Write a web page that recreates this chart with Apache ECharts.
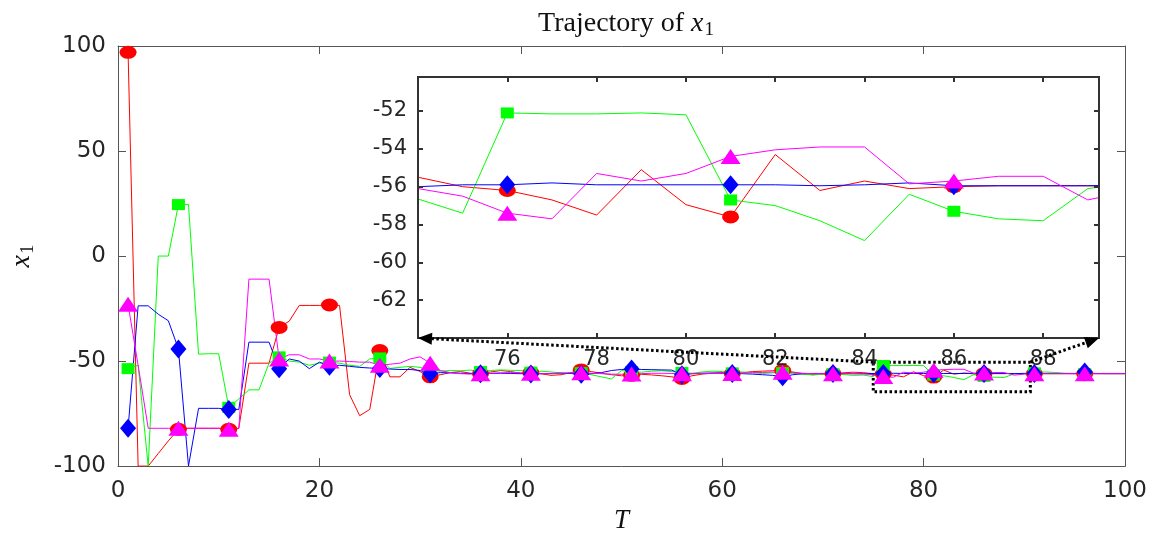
<!DOCTYPE html>
<html>
<head>
<meta charset="utf-8">
<script src="https://cdn.jsdelivr.net/npm/echarts@6/dist/echarts.min.js"></script>
<style>
html,body{margin:0;padding:0;background:#fff;}
#chart{width:1161px;height:539px;}
</style>
</head>
<body>
<div id="chart"></div>
<script>
// ---------- data ----------
const T = Array.from({length: 100}, (_, i) => i + 1);

const red = [
  97, -100, -100, -94, -88, -82.5, -82, -82, -82, -82,
  -82.5, -82, -51, -51, -51, -34, -31, -23.5, -23.5, -23.5,
  -23.3, -23.5, -66, -76, -73, -45, -57.5, -57.5, -53, -55,
  -57.5, -56.5, -55.5, -55, -55.8, -56, -55.2, -54.5, -55, -55.8,
  -55.5, -56, -56.8, -56.5, -55.5, -54.2, -55, -55.8, -56.5, -57,
  -56.8, -56.3, -56.6, -57, -57.5, -58.3, -57, -56.2, -55.8, -55.5,
  -56, -55.6, -55, -54.8, -54.6, -54.4, -55.2, -56, -56.5, -56.2,
  -56, -55.6, -55.3, -55.5, -56, -56.2, -56.7, -57.5, -55.1, -56.95,
  -57.6, -54.3, -56.2, -55.7, -56.1, -56, -55.95, -55.95, -55.95, -56,
  -56, -56, -56, -56, -56, -56, -56, -56, -56, -56
];
const green = [
  -53.6, -52, -100, 0, 0, 24.5, 24.5, -46.7, -46.5, -46.5,
  -72, -68, -63.7, -63.7, -51, -48, -50, -50.5, -52, -51,
  -50.5, -51, -52, -52.5, -49, -48.5, -53.5, -53, -52.5, -53,
  -54.5, -54.8, -54.5, -54.6, -54.3, -55, -54.5, -54.2, -54.4, -54.5,
  -55.3, -54.8, -55.2, -55.6, -55.8, -55.5, -56.5, -57.5, -58.5, -54.5,
  -55, -55.3, -54.8, -54.6, -55, -55.4, -55.8, -55.2, -54.8, -55,
  -55.6, -55.2, -55.5, -55.9, -55.6, -55.5, -55.8, -56.3, -56.6, -56.2,
  -56, -56.4, -56.8, -56.65, -57.4, -52.1, -52.15, -52.15, -52.1, -52.2,
  -56.7, -57.0, -57.8, -58.85, -56.4, -57.3, -57.7, -57.8, -56.1, -55.8,
  -55.6, -55.2, -55.4, -55.8, -56, -56, -55.9, -56, -56, -56
];
const blue = [
  -82, -23.7, -23.7, -27.7, -30.8, -44.2, -100, -72.5, -72.5, -72.5,
  -73, -73, -41, -41, -41, -53.6, -49, -50, -53.6, -50.5,
  -52.5, -52, -52.5, -53, -53.3, -53.5, -53.8, -54, -54, -54.5,
  -56, -55.5, -55.6, -55.8, -55.9, -56, -55.9, -55.8, -55.9, -56,
  -56.2, -56, -55.9, -55.8, -55.9, -56.3, -56, -55.5, -54.5, -54,
  -53.8, -54, -54.1, -54.2, -54.3, -56.5, -56, -55.8, -55.7, -55.8,
  -55.9, -56, -56.2, -56.5, -56.8, -57.5, -56.5, -56, -55.9, -55.9,
  -55.9, -55.9, -56, -56, -55.9, -55.9, -55.8, -55.9, -55.9, -55.9,
  -55.9, -55.9, -55.95, -55.9, -55.8, -55.95, -55.95, -55.95, -55.95, -55.9,
  -55.9, -55.9, -55.9, -55.9, -55.9, -55.2, -55.9, -55.9, -55.9, -55.9
];
const magenta = [
  -23, -52, -82, -82, -82, -82, -82, -82, -82, -82,
  -82.5, -82, -11, -11, -11, -49, -47, -47, -49, -49,
  -50, -50, -50.2, -50.5, -50.5, -52, -51.5, -51, -49, -48,
  -51, -54.5, -55.5, -56, -56.2, -56, -55.8, -55.6, -55.5, -55.6,
  -55.8, -56, -56, -55.8, -55.6, -55.5, -55.8, -56, -56.2, -56.3,
  -56.2, -56, -55.8, -55.8, -55.9, -56, -56, -55.9, -55.8, -55.8,
  -55.9, -55.8, -55.6, -55.4, -55.2, -55.3, -55.5, -55.8, -56, -56,
  -56, -56, -56, -56.1, -56.5, -57.4, -57.7, -55.3, -55.7, -55.3,
  -54.4, -54.05, -53.9, -53.9, -55.85, -55.7, -55.45, -55.45, -56.7, -56.2,
  -56, -56, -56, -56, -56, -56, -56, -56, -56, -56
];
const markerStep = 5;              // markers at T = 1, 6, 11, ...
const mainXTicks = {min: 0, max: 100, interval: 20};
const mainYTicks = {min: -100, max: 100, interval: 50};
const insetXTicks = {min: 74, max: 89.25, interval: 2};
const insetYTicks = {min: -64, max: -50.2, interval: 2};
const zoomBox = {x0: 75, x1: 90.6, y0: -50.5, y1: -64.6};

// ---------- chart ----------
const chart = echarts.init(document.getElementById('chart'), null, {renderer: 'canvas'});
const tickFont = 'DejaVu Sans';
const serif = 'Liberation Serif';
const txt = '#262626';

const specs = [
  {name: 'red', data: red, color: '#ff0000', symbol: 'circle', size: [17, 13]},
  {name: 'green', data: green, color: '#00ff00', symbol: 'rect', size: [13, 11]},
  {name: 'blue', data: blue, color: '#0000ff', symbol: 'diamond', size: [16, 19]},
  {name: 'magenta', data: magenta, color: '#ff00ff', symbol: 'triangle', size: [20, 15]}
];

function pairs(arr) { return T.map((t, i) => [t, arr[i]]); }
function markers(arr) { return T.map((t, i) => [t, arr[i]]).filter((_, i) => i % markerStep === 0); }

const series = [];
[[0, 2], [2, 11]].forEach(([axis, z]) => {
  specs.forEach(s => {
    series.push({
      type: 'line', name: s.name, xAxisIndex: axis, yAxisIndex: axis,
      data: pairs(s.data), showSymbol: false, symbol: 'none', clip: true,
      lineStyle: {color: s.color, width: 1}, z: z, animation: false, silent: true
    });
    series.push({
      type: 'scatter', name: s.name + 'M', xAxisIndex: axis, yAxisIndex: axis,
      data: markers(s.data), symbol: s.symbol, symbolSize: s.size, clip: true,
      itemStyle: {color: s.color, opacity: 1}, z: z, animation: false, silent: true
    });
  });
});

function axisBase(extra) {
  return Object.assign({
    type: 'value', splitLine: {show: false},
    axisLine: {show: true, onZero: false, lineStyle: {color: '#555', width: 1}},
    axisTick: {show: true, inside: true, length: 8, lineStyle: {color: '#555', width: 1}}
  }, extra);
}
const insetLine = {show: true, onZero: false, lineStyle: {color: '#333', width: 2}};
const insetTick = {show: true, inside: true, length: 5, lineStyle: {color: '#333', width: 2}};

const option = {
  animation: false,
  backgroundColor: '#fff',
  title: {
    text: '{a|Trajectory of }{i|x}{s|1}',
    left: 621, top: 3, textAlign: 'center',
    textStyle: {
      fontWeight: 'normal',
      rich: {
        a: {fontFamily: serif, fontSize: 28, fontWeight: 'normal', color: '#111'},
        i: {fontFamily: serif, fontStyle: 'italic', fontWeight: 'normal', fontSize: 28, color: '#111'},
        s: {fontFamily: serif, fontSize: 19, fontWeight: 'normal', color: '#111', padding: [13, 0, 0, 1]}
      }
    }
  },
  grid: [
    {left: 118, top: 46, width: 1007, height: 425, show: false},
    {left: 418, top: 77, width: 681, height: 261, show: true, backgroundColor: '#fff',
     borderColor: '#333', borderWidth: 2, z: 10}
  ],
  xAxis: [
    axisBase(Object.assign({gridIndex: 0, position: 'bottom',
      axisLabel: {fontFamily: tickFont, fontSize: 23, color: txt, margin: 13},
      name: 'T', nameLocation: 'middle', nameGap: 36,
      nameTextStyle: {fontFamily: serif, fontStyle: 'italic', fontSize: 27, color: '#111'}}, mainXTicks)),
    axisBase(Object.assign({gridIndex: 0, position: 'top', axisLabel: {show: false}}, mainXTicks)),
    Object.assign({type: 'value', gridIndex: 1, position: 'bottom', z: 12, splitLine: {show: false},
      axisLine: insetLine, axisTick: insetTick,
      axisLabel: {fontFamily: tickFont, fontSize: 21, color: txt, margin: 11,
        showMinLabel: false, showMaxLabel: false}}, insetXTicks),
    Object.assign({type: 'value', gridIndex: 1, position: 'top', z: 12, splitLine: {show: false},
      axisLine: insetLine, axisTick: insetTick, axisLabel: {show: false}}, insetXTicks)
  ],
  yAxis: [
    axisBase(Object.assign({gridIndex: 0, position: 'left',
      axisLabel: {fontFamily: tickFont, fontSize: 23, color: txt, margin: 12},
      name: '{i|x}{s|1}', nameLocation: 'middle', nameGap: 80, nameRotate: 90,
      nameTextStyle: {rich: {
        i: {fontFamily: serif, fontStyle: 'italic', fontSize: 28, color: '#111'},
        s: {fontFamily: serif, fontSize: 19, color: '#111', padding: [13, 0, 0, 1]}
      }}}, mainYTicks)),
    axisBase(Object.assign({gridIndex: 0, position: 'right', axisLabel: {show: false}}, mainYTicks)),
    Object.assign({type: 'value', gridIndex: 1, position: 'left', z: 12, splitLine: {show: false},
      axisLine: insetLine, axisTick: insetTick,
      axisLabel: {fontFamily: tickFont, fontSize: 21, color: txt, margin: 11,
        showMinLabel: false, showMaxLabel: false}}, insetYTicks),
    Object.assign({type: 'value', gridIndex: 1, position: 'right', z: 12, splitLine: {show: false},
      axisLine: insetLine, axisTick: insetTick, axisLabel: {show: false}}, insetYTicks)
  ],
  series: series
};
chart.setOption(option);

// ---------- zoom box + dotted arrows ----------
const mainF = {xAxisIndex: 0, yAxisIndex: 0};
const insF = {xAxisIndex: 2, yAxisIndex: 2};
const b0 = chart.convertToPixel(mainF, [zoomBox.x0, zoomBox.y0]);
const b1 = chart.convertToPixel(mainF, [zoomBox.x1, zoomBox.y1]);
const iL = chart.convertToPixel(insF, [insetXTicks.min, insetYTicks.min]);
const iR = chart.convertToPixel(insF, [insetXTicks.max, insetYTicks.min]);
const dotted = {stroke: '#000', lineWidth: 3, lineDash: [2.5, 2.5], fill: null};

function arrow(from, to) {
  const dx = to[0] - from[0], dy = to[1] - from[1];
  const len = Math.sqrt(dx * dx + dy * dy);
  const ux = dx / len, uy = dy / len;
  const head = 14, half = 6;
  const bx = to[0] - ux * head, by = to[1] - uy * head;
  return [
    {type: 'line', z: 30, silent: true,
     shape: {x1: from[0], y1: from[1], x2: bx, y2: by}, style: dotted},
    {type: 'polygon', z: 30, silent: true,
     shape: {points: [[to[0], to[1]], [bx - uy * half, by + ux * half], [bx + uy * half, by - ux * half]]},
     style: {fill: '#000'}}
  ];
}

chart.setOption({
  graphic: [
    {type: 'rect', z: 1, silent: true,
     shape: {x: b0[0], y: b0[1], width: b1[0] - b0[0], height: b1[1] - b0[1]},
     style: dotted}
  ].concat(arrow([b0[0], b0[1]], iL), arrow([b1[0], b0[1]], iR))
});
</script>
</body>
</html>
